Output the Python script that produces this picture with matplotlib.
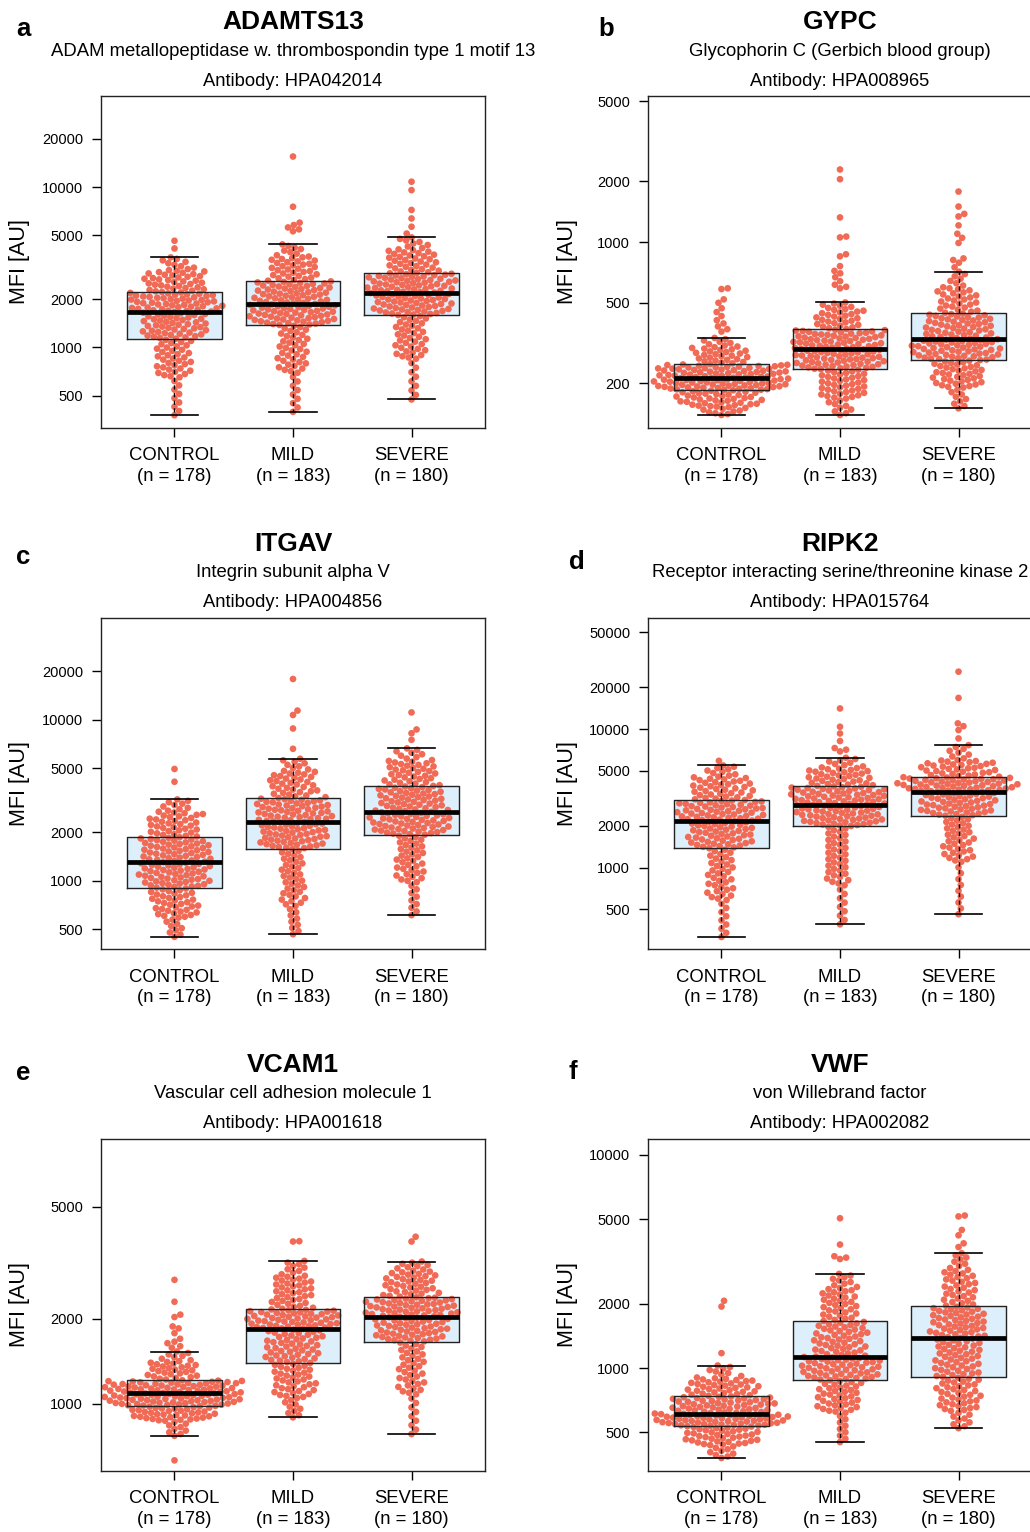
import numpy as np
import matplotlib
matplotlib.use('Agg')
import matplotlib.pyplot as plt
from matplotlib.ticker import NullLocator

plt.rcParams['font.family'] = ['Liberation Sans', 'DejaVu Sans']

# ---- data ----
groups = ['CONTROL', 'MILD', 'SEVERE']
group_n = [178, 183, 180]

panel_letters = ['a', 'b', 'c', 'd', 'e', 'f']
genes = ['ADAMTS13', 'GYPC', 'ITGAV', 'RIPK2', 'VCAM1', 'VWF']
gene_names = ['ADAM metallopeptidase w. thrombospondin type 1 motif 13',
              'Glycophorin C (Gerbich blood group)',
              'Integrin subunit alpha V',
              'Receptor interacting serine/threonine kinase 2',
              'Vascular cell adhesion molecule 1',
              'von Willebrand factor']
antibodies = ['HPA042014', 'HPA008965', 'HPA004856',
              'HPA015764', 'HPA001618', 'HPA002082']

# per group: [lower whisker, lower tail, Q1, median, Q3, upper tail, upper whisker]
adamts13_knots = [[378, 650, 1138, 1669, 2213, 3050, 3642],
                  [397, 700, 1378, 1854, 2592, 3700, 4390],
                  [474, 850, 1591, 2193, 2922, 4100, 4854]]
adamts13_hi = [[4142, 4627],
               [5300, 5450, 5600, 5800, 6000, 7540, 15500],
               [5130, 5660, 6370, 7200, 9570, 10800]]
adamts13_lo = [[], [], []]

gypc_knots = [[139, 152, 184.5, 213, 248, 305, 335],
              [139, 168, 234, 294, 369, 465, 502],
              [150, 190, 260, 329, 443, 600, 713]]
gypc_hi = [[360, 370, 382, 395, 410, 430, 450, 470, 500, 520, 585, 590],
           [590, 600, 615, 640, 670, 700, 720, 760, 850, 870, 1055, 1065, 1325, 2050, 2290],
           [750, 790, 815, 830, 990, 1050, 1100, 1210, 1340, 1380, 1500, 1780]]
gypc_lo = [[], [], []]

itgav_knots = [[449, 590, 909, 1300, 1858, 2700, 3200],
               [466, 700, 1588, 2303, 3246, 4800, 5725],
               [612, 980, 1931, 2670, 3890, 5600, 6637]]
itgav_hi = [[4120, 4945],
            [6600, 8820, 10700, 11400, 17900],
            [7500, 8240, 8700, 11100]]
itgav_lo = [[], [], []]

ripk2_knots = [[315, 580, 1387, 2175, 3066, 4550, 5460],
               [389, 750, 1990, 2822, 3872, 5300, 6207],
               [460, 1100, 2363, 3505, 4498, 6000, 7660]]
ripk2_hi = [[5900],
            [6900, 7100, 7300, 8200, 9300, 10400, 14100],
            [8560, 9840, 10500, 11000, 16800, 26000]]
ripk2_lo = [[], [], []]

vcam1_knots = [[770, 870, 984, 1091, 1210, 1420, 1532],
               [895, 1050, 1401, 1843, 2164, 2850, 3210],
               [781, 1080, 1663, 2032, 2387, 2950, 3193]]
vcam1_hi = [[1580, 1600, 1640, 1660, 1700, 1780, 1850, 1880, 2030, 2070, 2300, 2750],
            [3760, 3770],
            [3760, 3910]]
vcam1_lo = [[630], [], []]

vwf_knots = [[379, 435, 533, 611, 736, 900, 1029],
             [450, 620, 882, 1134, 1655, 2400, 2768],
             [523, 630, 908, 1382, 1945, 2900, 3460]]
vwf_hi = [[1176, 1945, 2070],
          [3250, 3300, 3350, 3800, 5050],
          [3700, 3850, 4200, 4450, 5150, 5200]]
vwf_lo = [[], [], []]

adamts13_yticks = [500, 1000, 2000, 5000, 10000, 20000]
gypc_yticks = [200, 500, 1000, 2000, 5000]
itgav_yticks = [500, 1000, 2000, 5000, 10000, 20000]
ripk2_yticks = [500, 1000, 2000, 5000, 10000, 20000, 50000]
vcam1_yticks = [1000, 2000, 5000]
vwf_yticks = [500, 1000, 2000, 5000, 10000]

panel_knots = [adamts13_knots, gypc_knots, itgav_knots, ripk2_knots, vcam1_knots, vwf_knots]
panel_hi = [adamts13_hi, gypc_hi, itgav_hi, ripk2_hi, vcam1_hi, vwf_hi]
panel_lo = [adamts13_lo, gypc_lo, itgav_lo, ripk2_lo, vcam1_lo, vwf_lo]
panel_yticks = [adamts13_yticks, gypc_yticks, itgav_yticks, ripk2_yticks, vcam1_yticks, vwf_yticks]

# ---- layout (pixels) ----
W, H = 1030, 1532
col_left = [101, 648]
row_top = [96, 617.7, 1139]
ax_w, ax_h = 384, 331.5
panel_ylim = [(317, 36950), (120.5, 5297), (376, 43000),
              (257, 63800), (580, 8683), (331, 11885)]
letter_pos = [(23, 29), (605.7, 29), (23, 556.7), (577.3, 562.3), (23, 1073.3), (573.3, 1072.3)]

DOT = '#F06A55'
BOXFILL = '#DDEFFB'


def group_values(knots, hi, lo, n):
    # sorted values for one group: low outliers, the core between whiskers, high outliers
    r = np.arange(len(lo), n - len(hi))
    p = r / (n - 1)
    p_lo = len(lo) / (n - 1)
    p_hi = (n - 1 - len(hi)) / (n - 1)
    kp = [p_lo, p_lo + 0.2 * (0.25 - p_lo), 0.25, 0.5, 0.75, 0.75 + 0.8 * (p_hi - 0.75), p_hi]
    core = 10 ** np.interp(p, kp, np.log10(knots))
    return np.concatenate([np.array(lo, float), core, np.array(hi, float)])


def swarm(ypix, d):
    n = len(ypix)
    xs = np.zeros(n)
    placed = []
    for i in np.argsort(ypix, kind='stable'):
        y = ypix[i]
        if placed:
            pj = np.array(placed)
            dy = ypix[pj] - y
            m = np.abs(dy) < d
            nj, ndy = pj[m], dy[m]
        else:
            nj, ndy = np.array([], int), np.array([])
        if len(nj):
            dx = np.sqrt(d * d - ndy ** 2)
            cands = np.concatenate([[0.0], xs[nj] + dx, xs[nj] - dx])
            cands = cands[np.argsort(np.abs(cands), kind='stable')]
            for c in cands:
                if np.all((xs[nj] - c) ** 2 + ndy ** 2 >= d * d - 1e-6):
                    xs[i] = c
                    break
        placed.append(i)
    return xs


fig = plt.figure(figsize=(W / 100, H / 100), dpi=100)

for k in range(6):
    row, col = divmod(k, 2)
    left, top = col_left[col], row_top[row]
    ax = fig.add_axes([left / W, 1 - (top + ax_h) / H, ax_w / W, ax_h / H])
    ax.set_yscale('log')
    ax.set_xlim(0.38, 3.62)
    ax.set_ylim(*panel_ylim[k])

    data = [group_values(panel_knots[k][g], panel_hi[k][g], panel_lo[k][g], group_n[g])
            for g in range(3)]

    # filled boxes underneath the points
    ax.boxplot(data, positions=[1, 2, 3], widths=0.8, patch_artist=True,
               showfliers=False, showcaps=False,
               whiskerprops=dict(visible=False), medianprops=dict(visible=False),
               boxprops=dict(facecolor=BOXFILL, edgecolor='none'), zorder=1)

    # beeswarm points
    for g in range(3):
        vals = data[g]
        pix = ax.transData.transform(np.column_stack([np.full(len(vals), g + 1.0), vals]))
        off = swarm(pix[:, 1], 6.3)
        xy = ax.transData.inverted().transform(np.column_stack([pix[:, 0] + off, pix[:, 1]]))
        ax.scatter(xy[:, 0], vals, s=23, color=DOT, edgecolors='none', zorder=2)

    # box outlines, medians, whiskers on top
    ax.boxplot(data, positions=[1, 2, 3], widths=0.8, showfliers=False, capwidths=0.4,
               boxprops=dict(color='#222222', linewidth=1.0),
               medianprops=dict(color='black', linewidth=3.4, solid_capstyle='butt'),
               whiskerprops=dict(color='black', linewidth=1.0, linestyle=(0, (3, 2.5))),
               capprops=dict(color='black', linewidth=1.2), zorder=3)

    ax.set_xlim(0.38, 3.62)
    ax.set_ylim(*panel_ylim[k])
    ax.set_xticks([1, 2, 3])
    ax.set_xticklabels([f'{g}\n(n = {n})' for g, n in zip(groups, group_n)], fontsize=13.3,
                       linespacing=1.28)
    ax.set_yticks(panel_yticks[k])
    ax.set_yticklabels([str(t) for t in panel_yticks[k]], fontsize=10.5)
    ax.yaxis.set_minor_locator(NullLocator())
    ax.tick_params(axis='y', length=6.5, width=1.0, pad=6.3)
    ax.tick_params(axis='x', length=6.5, width=1.0, pad=7.5)
    for s in ax.spines.values():
        s.set_linewidth(1.0)
        s.set_color('#222222')

    cx = (left + ax_w / 2) / W
    fig.text(cx, 1 - (top - 74) / H, genes[k], ha='center', va='center',
             fontsize=19, fontweight='bold')
    fig.text(cx, 1 - (top - 45) / H, gene_names[k], ha='center', va='center', fontsize=13.3)
    fig.text(cx, 1 - (top - 15) / H, 'Antibody: ' + antibodies[k], ha='center',
             va='center', fontsize=13.2)
    fig.text((left - 81) / W, 1 - (top + ax_h / 2) / H, 'MFI [AU]', rotation=90,
             ha='center', va='center', fontsize=15.5)
    lx, ly = letter_pos[k]
    fig.text(lx / W, 1 - ly / H, panel_letters[k], ha='center', va='center',
             fontsize=18.5, fontweight='bold')

fig.savefig('out.png', dpi=100)
